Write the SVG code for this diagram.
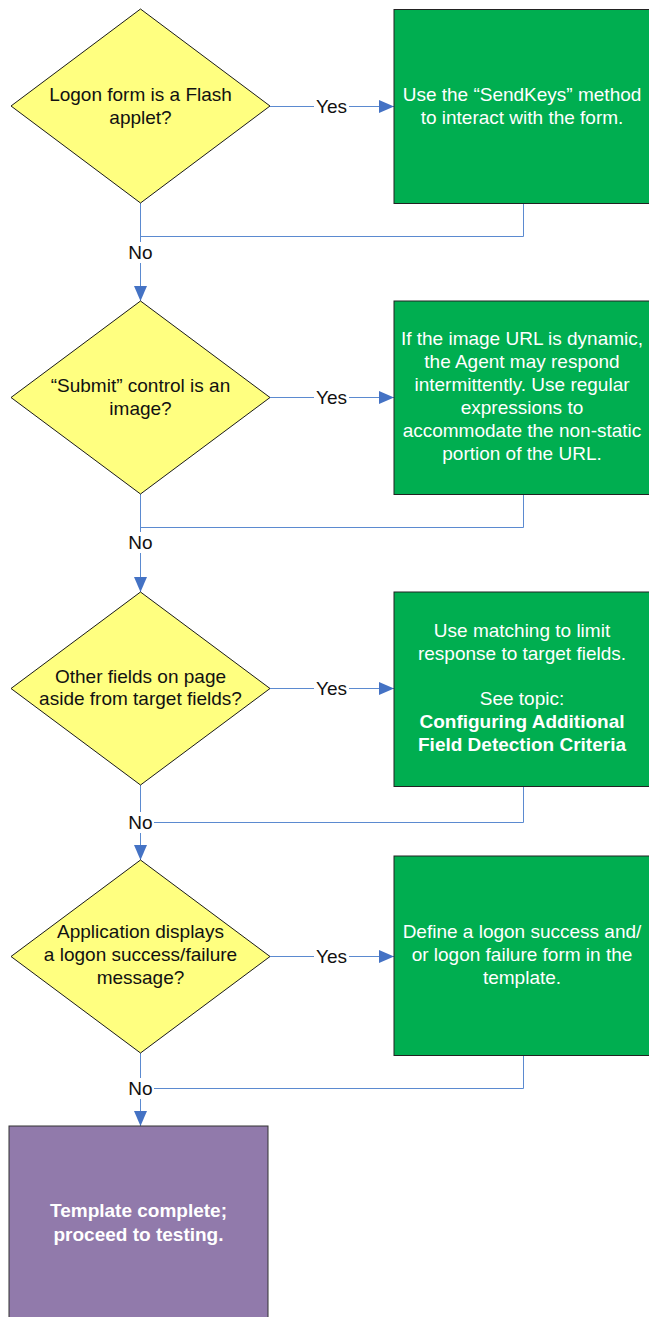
<svg xmlns="http://www.w3.org/2000/svg" width="649" height="1317" viewBox="0 0 649 1317">
  <style>
    .decision { fill: #FFFF80; stroke: #1a1a1a; stroke-width: 1; }
    .action { fill: #00AE50; stroke: #222222; stroke-width: 1; }
    .final { fill: #917AAB; stroke: #333333; stroke-width: 1; }
    .dtext { font-family: "Liberation Sans", Arial, sans-serif; font-size: 19px; fill: #111111; text-anchor: middle; }
    .atext { font-family: "Liberation Sans", Arial, sans-serif; font-size: 19px; fill: #ffffff; text-anchor: middle; }
    .bold { font-weight: bold; }
    .conn { fill: none; stroke: #5B8AD0; stroke-width: 1; }
    .lbl-bg { fill: #ffffff; }
    .lbl { font-family: "Liberation Sans", Arial, sans-serif; font-size: 19px; fill: #111111; text-anchor: middle; }
  </style>
  <defs>
    <marker id="arrow" markerUnits="userSpaceOnUse" markerWidth="15" markerHeight="13" refX="15" refY="6.5" orient="auto">
      <path d="M0,0 L15,6.5 L0,13 z" fill="#4472C4"/>
    </marker>
  </defs>

  <rect width="649" height="1317" fill="#ffffff"/>

  <!-- connectors -->
  <g id="connectors">
    <!-- yes branches -->
    <line class="conn" x1="270" y1="106.5" x2="394" y2="106.5" marker-end="url(#arrow)"/>
    <line class="conn" x1="270" y1="397.5" x2="394" y2="397.5" marker-end="url(#arrow)"/>
    <line class="conn" x1="270" y1="688.5" x2="394" y2="688.5" marker-end="url(#arrow)"/>
    <line class="conn" x1="270" y1="956.5" x2="394" y2="956.5" marker-end="url(#arrow)"/>
    <!-- no branches -->
    <line class="conn" x1="140.5" y1="203" x2="140.5" y2="301" marker-end="url(#arrow)"/>
    <line class="conn" x1="140.5" y1="494" x2="140.5" y2="592" marker-end="url(#arrow)"/>
    <line class="conn" x1="140.5" y1="785" x2="140.5" y2="860" marker-end="url(#arrow)"/>
    <line class="conn" x1="140.5" y1="1053" x2="140.5" y2="1126" marker-end="url(#arrow)"/>
    <!-- returns from action boxes -->
    <polyline class="conn" points="523.5,203.5 523.5,236.5 140.5,236.5"/>
    <polyline class="conn" points="523.5,494.5 523.5,527.5 140.5,527.5"/>
    <polyline class="conn" points="523.5,786.5 523.5,822.5 140.5,822.5"/>
    <polyline class="conn" points="523.5,1055.5 523.5,1088.5 140.5,1088.5"/>
    <!-- labels -->
    <g>
      <rect class="lbl-bg" x="314" y="96" width="35" height="20"/>
      <text class="lbl" x="331.5" y="113">Yes</text>
      <rect class="lbl-bg" x="314" y="387" width="35" height="20"/>
      <text class="lbl" x="331.5" y="404">Yes</text>
      <rect class="lbl-bg" x="314" y="678" width="35" height="20"/>
      <text class="lbl" x="331.5" y="695">Yes</text>
      <rect class="lbl-bg" x="314" y="946" width="35" height="20"/>
      <text class="lbl" x="331.5" y="963">Yes</text>
      <rect class="lbl-bg" x="127" y="242" width="27" height="21"/>
      <text class="lbl" x="140.5" y="259">No</text>
      <rect class="lbl-bg" x="127" y="532" width="27" height="21"/>
      <text class="lbl" x="140.5" y="549">No</text>
      <rect class="lbl-bg" x="127" y="812" width="27" height="21"/>
      <text class="lbl" x="140.5" y="829">No</text>
      <rect class="lbl-bg" x="127" y="1078" width="27" height="21"/>
      <text class="lbl" x="140.5" y="1095">No</text>
    </g>
  </g>

  <!-- decision 1 -->
  <g id="q-flash">
    <polygon class="decision" points="140.5,9 270,106 140.5,203 11,106"/>
    <text class="dtext" x="140.5" y="101">Logon form is a Flash</text>
    <text class="dtext" x="140.5" y="124">applet?</text>
  </g>
  <g id="a-sendkeys">
    <rect class="action" x="394" y="9.5" width="258" height="194"/>
    <text class="atext" x="522" y="101">Use the “SendKeys” method</text>
    <text class="atext" x="522" y="124">to interact with the form.</text>
  </g>

  <!-- decision 2 -->
  <g id="q-submit">
    <polygon class="decision" points="140.5,301 270,397.5 140.5,494 11,397.5"/>
    <text class="dtext" x="140.5" y="392">“Submit” control is an</text>
    <text class="dtext" x="140.5" y="415">image?</text>
  </g>
  <g id="a-regex">
    <rect class="action" x="394" y="301" width="258" height="193.5"/>
    <text class="atext" x="522" y="345">If the image URL is dynamic,</text>
    <text class="atext" x="522" y="368">the Agent may respond</text>
    <text class="atext" x="522" y="391">intermittently. Use regular</text>
    <text class="atext" x="522" y="414">expressions to</text>
    <text class="atext" x="522" y="437">accommodate the non-static</text>
    <text class="atext" x="522" y="460">portion of the URL.</text>
  </g>

  <!-- decision 3 -->
  <g id="q-fields">
    <polygon class="decision" points="140.5,592 270,688.5 140.5,785 11,688.5"/>
    <text class="dtext" x="140.5" y="683">Other fields on page</text>
    <text class="dtext" x="140.5" y="705">aside from target fields?</text>
  </g>
  <g id="a-matching">
    <rect class="action" x="394" y="592" width="258" height="194.5"/>
    <text class="atext" x="522" y="637">Use matching to limit</text>
    <text class="atext" x="522" y="660">response to target fields.</text>
    <text class="atext" x="522" y="705">See topic:</text>
    <text class="atext bold" x="522" y="728">Configuring Additional</text>
    <text class="atext bold" x="522" y="751">Field Detection Criteria</text>
  </g>

  <!-- decision 4 -->
  <g id="q-message">
    <polygon class="decision" points="140.5,860 270,956.5 140.5,1053 11,956.5"/>
    <text class="dtext" x="140.5" y="938">Application displays</text>
    <text class="dtext" x="140.5" y="961">a logon success/failure</text>
    <text class="dtext" x="140.5" y="984">message?</text>
  </g>
  <g id="a-define">
    <rect class="action" x="394" y="856" width="258" height="199.5"/>
    <text class="atext" x="522" y="938">Define a logon success and/</text>
    <text class="atext" x="522" y="961">or logon failure form in the</text>
    <text class="atext" x="522" y="984">template.</text>
  </g>

  <!-- end -->
  <g id="done">
    <rect class="final" x="9" y="1126" width="259" height="196"/>
    <text class="atext bold" x="138.5" y="1217">Template complete;</text>
    <text class="atext bold" x="138.5" y="1241">proceed to testing.</text>
  </g>
</svg>
